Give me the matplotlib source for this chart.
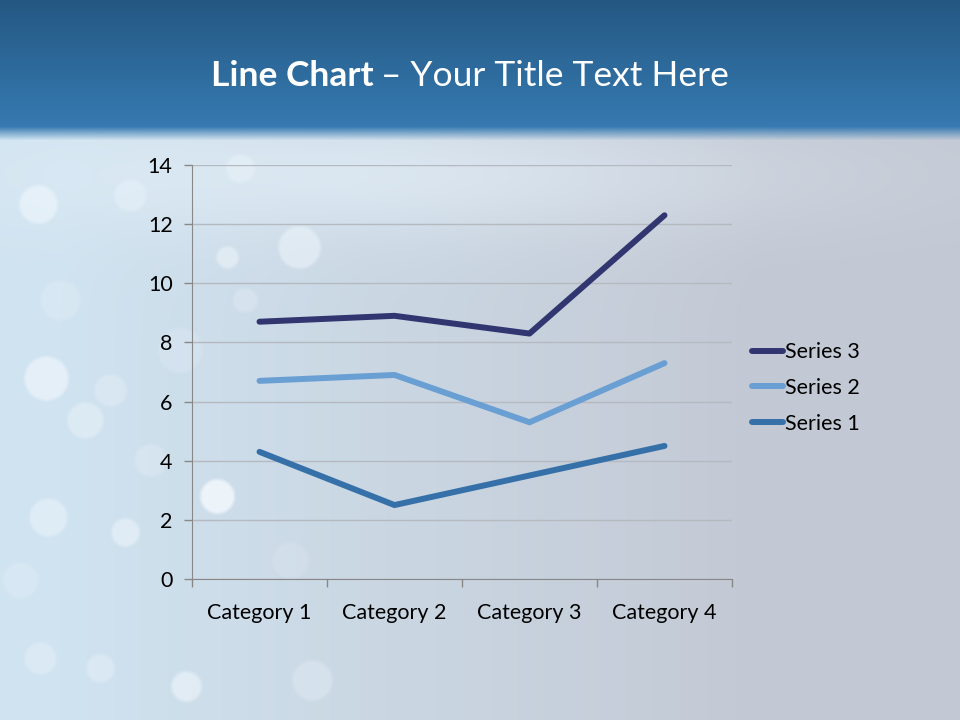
import numpy as np
import matplotlib.pyplot as plt

categories = ["Category 1", "Category 2", "Category 3", "Category 4"]
series_names = ["Series 1", "Series 2", "Series 3"]
# raw values of the stacked line chart
series_1 = [4.3, 2.5, 3.5, 4.5]
series_2 = [2.4, 4.4, 1.8, 2.8]
series_3 = [2.0, 2.0, 3.0, 5.0]
colors = ["#3570a8", "#6a9fd3", "#323670"]
y_ticks = [0, 2, 4, 6, 8, 10, 12, 14]

plt.rcParams["font.family"] = ["Lato", "DejaVu Sans"]

W, H = 960, 720
fig = plt.figure(figsize=(9.6, 7.2), dpi=100)

# background: header band + soft pale body
yy, xx = np.mgrid[0:H, 0:W].astype(float)
top = np.array([0x24, 0x58, 0x82]) / 255
mid = np.array([0x36, 0x7a, 0xb1]) / 255
left_c = np.array([0xd0, 0xe3, 0xf0]) / 255
right_c = np.array([0xc3, 0xc9, 0xd4]) / 255
t = np.clip(yy / 125, 0, 1)[..., None]
header = top * (1 - t) + mid * t
s = np.clip((xx - 60) / 700, 0, 1)[..., None]
body = left_c * (1 - s) + right_c * s
glow = np.exp(-((yy - 175) / 60) ** 2 - ((xx - 380) / 420) ** 2)[..., None]
body = body + (np.array([0.92, 0.96, 0.99]) - body) * glow * 0.5

# soft bokeh spots (decoration)
white = np.array([0.96, 0.98, 1.0])
for cx, cy, r, a in [(38, 204, 19, 0.5), (46, 378, 22, 0.55), (85, 420, 18, 0.35),
                     (48, 517, 19, 0.4), (125, 532, 14, 0.45), (217, 496, 17, 0.8),
                     (227, 257, 11, 0.45), (299, 247, 21, 0.45), (240, 168, 14, 0.3),
                     (40, 658, 16, 0.3), (100, 668, 14, 0.3), (186, 686, 15, 0.5),
                     (312, 680, 20, 0.25), (130, 195, 16, 0.3), (245, 300, 12, 0.25),
                     (60, 300, 20, 0.2), (150, 460, 16, 0.2), (20, 580, 18, 0.2),
                     (180, 350, 22, 0.15), (110, 390, 16, 0.25), (290, 560, 18, 0.15)]:
    d = np.sqrt((xx - cx) ** 2 + (yy - cy) ** 2)
    m = np.clip((r - d) / 4 + 0.5, 0, 1)[..., None] * a
    body = body * (1 - m) + white * m

blend = np.clip((yy - 126) / 14, 0, 1)[..., None]
img = header * (1 - blend) + body * blend

bg = fig.add_axes([0, 0, 1, 1])
bg.imshow(np.clip(img, 0, 1), extent=[0, W, H, 0], aspect="auto", zorder=0)
bg.set_xlim(0, W)
bg.set_ylim(H, 0)
bg.axis("off")

# title: bold part then regular part
title_bold = bg.text(211, 76, "Line Chart", ha="left", va="center",
                     fontsize=25.5, fontweight="bold", color="white")
fig.canvas.draw()
bb = title_bold.get_window_extent()
bg.text(211 + bb.width - 2, 76, " \u2013 Your Title Text Here", ha="left",
        va="center", fontsize=25.5, color="white")

# chart
ax = fig.add_axes([192 / W, (H - 579) / H, 540 / W, 414 / H])
ax.patch.set_alpha(0)
x = np.arange(len(categories))
stacked = np.cumsum([series_1, series_2, series_3], axis=0)
for i in [2, 1, 0]:
    ax.plot(x, stacked[i], color=colors[i], lw=4.3, solid_capstyle="round",
            solid_joinstyle="round", label=series_names[i], zorder=3)

ax.set_xlim(-0.5, len(categories) - 0.5)
ax.set_ylim(0, 14)
ax.set_yticks(y_ticks)
ax.set_xticks(x)
ax.set_xticklabels(categories)
ax.set_xticks(np.arange(len(categories) + 1) - 0.5, minor=True)
ax.tick_params(axis="x", which="major", length=0, pad=17, labelsize=15.5)
ax.tick_params(axis="x", which="minor", length=6, color="#888888", width=1)
ax.tick_params(axis="y", length=6, color="#888888", width=1, pad=8, labelsize=15.5)
ax.grid(axis="y", color="#b5b9c0", lw=1)
ax.set_axisbelow(True)
for side in ["top", "right"]:
    ax.spines[side].set_visible(False)
for side in ["left", "bottom"]:
    ax.spines[side].set_color("#888888")

leg = ax.legend(loc="center left", frameon=False, fontsize=15.5,
                handlelength=1.45, handletextpad=0.1, labelspacing=0.72,
                borderpad=0, borderaxespad=0)
leg.set_bbox_to_anchor((752 / W, (H - 388) / H), transform=fig.transFigure)

fig.savefig("out.png", dpi=100)
